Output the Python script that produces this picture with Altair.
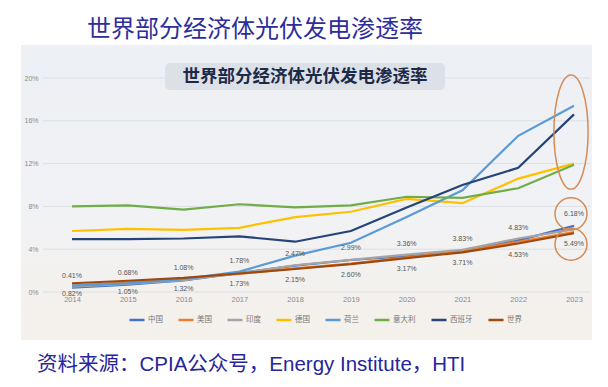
import altair as alt
import pandas as pd

# ---------------- data ----------------
years = list(range(2014, 2024))
series_names = ["中国", "美国", "印度", "德国", "荷兰", "意大利", "西班牙", "世界"]
china = [0.41, 0.68, 1.08, 1.78, 2.47, 2.99, 3.36, 3.83, 4.83, 6.18]
usa = [0.60, 0.90, 1.25, 1.70, 2.20, 2.65, 3.25, 3.80, 4.70, 5.60]
india = [0.50, 0.75, 1.10, 1.75, 2.50, 3.00, 3.50, 3.95, 5.00, 5.85]
germany = [5.7, 5.9, 5.8, 6.0, 7.0, 7.5, 8.7, 8.3, 10.6, 12.0]
netherlands = [0.6, 0.8, 1.2, 1.9, 3.4, 4.6, 7.0, 9.5, 14.6, 17.4]
italy = [8.0, 8.1, 7.7, 8.2, 7.9, 8.1, 8.9, 8.8, 9.7, 11.9]
spain = [4.95, 4.95, 5.0, 5.2, 4.7, 5.7, 7.9, 10.0, 11.6, 16.6]
world = [0.82, 1.05, 1.32, 1.73, 2.15, 2.60, 3.17, 3.71, 4.53, 5.49]
y_ticks = [0, 4, 8, 12, 16, 20]
colors = ["#4472C4", "#ED7D31", "#A5A5A5", "#FFC000", "#5B9BD5", "#70AD47", "#264478", "#9E480E"]

outer_title = "世界部分经济体光伏发电渗透率"
inner_title = "世界部分经济体光伏发电渗透率"
footer = "资料来源：CPIA公众号，Energy Institute，HTI"

all_values = [china, usa, india, germany, netherlands, italy, spain, world]
rows = []
for name, vals in zip(series_names, all_values):
    for yr, v in zip(years, vals):
        rows.append({"year": yr, "series": name, "value": v})
df = pd.DataFrame(rows)

df_china = df[df.series == "中国"].copy()
df_world = df[df.series == "世界"].copy()
df_china["label"] = df_china["value"].map(lambda v: f"{v:.2f}%")
df_world["label"] = df_world["value"].map(lambda v: f"{v:.2f}%")

last = years[-1]
top4 = df[(df.year == last) & df.series.isin(["德国", "荷兰", "意大利", "西班牙"])]
df_ellipse = pd.DataFrame({"year": [last], "value": [top4["value"].mean()]})
df_c1 = df_china[df_china.year == last]
df_c2 = df_world[df_world.year == last]
df_grid = pd.DataFrame({"value": y_ticks})
one = pd.DataFrame({"a": [0]})

W, H = 547, 214
CJK = "Noto Sans CJK SC"

x_enc = alt.X("year:Q",
              scale=alt.Scale(domain=[2013.48, 2023.287], nice=False, zero=False),
              axis=alt.Axis(values=years, format="d", title=None, grid=False, ticks=False,
                            domain=False, labelFontSize=7.5, labelColor="#8a8a8a",
                            labelPadding=3, labelFont="Liberation Sans", zindex=1))
y_axis = alt.Axis(values=y_ticks, labelExpr="datum.value + '%'", title=None, grid=False,
                  ticks=False, domain=False, labelFontSize=7, labelColor="#8a8a8a",
                  labelPadding=5, labelFont="Liberation Sans", zindex=1)
y_scale = alt.Scale(domain=[0, 20], nice=False, zero=True)
y_enc = alt.Y("value:Q", scale=y_scale, axis=y_axis)

grad = alt.Gradient(gradient="linear", x1=0, x2=0, y1=0, y2=1,
                    stops=[alt.GradientStop(color="#EDF0F4", offset=0),
                           alt.GradientStop(color="#F1F2F4", offset=0.6),
                           alt.GradientStop(color="#F5F0EA", offset=1)])

bg = alt.Chart(one).mark_rect(fill=grad).encode(
    x=alt.value(-22), x2=alt.value(549), y=alt.value(-33), y2=alt.value(262))

grid = alt.Chart(df_grid).mark_rule(color="#DCDFE4", strokeWidth=1).encode(
    y=y_enc, x=alt.value(0), x2=alt.value(W))

band = alt.Chart(one).mark_rect(fill="#DCE0E7", cornerRadius=5).encode(
    x=alt.value(122), x2=alt.value(402), y=alt.value(-15), y2=alt.value(12))

band_text = alt.Chart(one).mark_text(
    text=inner_title, fontSize=17.5, fontWeight="bold", color="#1C2A48", font=CJK,
    align="center", baseline="middle").encode(x=alt.value(262), y=alt.value(-1))

lines = alt.Chart(df).mark_line(strokeWidth=2.2).encode(
    x=x_enc, y=y_enc,
    color=alt.Color("series:N", scale=alt.Scale(domain=series_names, range=colors),
                    legend=alt.Legend(orient="none", legendX=85, legendY=233,
                                      direction="horizontal", columns=8, title=None,
                                      symbolType="stroke", symbolSize=225,
                                      symbolStrokeWidth=2.5, labelFontSize=7.5,
                                      labelColor="#777777", labelFont=CJK,
                                      columnPadding=10, labelOffset=2, zindex=1)))

lab_up = alt.Chart(df_china).mark_text(dy=-12, fontSize=7, color="#555555",
                                       font="Liberation Sans").encode(
    x=x_enc, y=y_enc, text="label:N")
lab_down = alt.Chart(df_world).mark_text(dy=11, fontSize=7, color="#555555",
                                         font="Liberation Sans").encode(
    x=x_enc, y=y_enc, text="label:N")

a, k = 0.3, 0.5523
ellipse_path = (f"M0,-1C{k*a:.4f},-1 {a},{-k:.4f} {a},0"
                f"C{a},{k:.4f} {k*a:.4f},1 0,1"
                f"C{-k*a:.4f},1 {-a},{k:.4f} {-a},0"
                f"C{-a},{-k:.4f} {-k*a:.4f},-1 0,-1Z")
ring = "#D58B55"
ellipse = alt.Chart(df_ellipse).mark_point(
    shape=ellipse_path, filled=False, stroke=ring, strokeWidth=1.5, size=12996,
    xOffset=-3, yOffset=-5, opacity=1).encode(x=x_enc, y=y_enc)
circ1 = alt.Chart(df_c1).mark_point(
    shape="circle", filled=False, stroke=ring, strokeWidth=1.5, size=1024,
    xOffset=-3, yOffset=-12, opacity=1).encode(x=x_enc, y=y_enc)
circ2 = alt.Chart(df_c2).mark_point(
    shape="circle", filled=False, stroke=ring, strokeWidth=1.5, size=1024,
    xOffset=-3, yOffset=11, opacity=1).encode(x=x_enc, y=y_enc)

title_txt = alt.Chart(one).mark_text(
    text=outer_title, fontSize=24, color="#2D2D9C", font=CJK,
    align="center", baseline="middle").encode(x=alt.value(212), y=alt.value(-48))

footer_txt = alt.Chart(one).mark_text(
    text=footer, fontSize=20.5, color="#26269A", font=f"Liberation Sans, {CJK}",
    align="left", baseline="middle").encode(x=alt.value(-6), y=alt.value(287))

chart = alt.layer(
    bg, grid, band, band_text, lines, lab_up, lab_down, ellipse, circ1, circ2,
    title_txt, footer_txt
).properties(
    width=W, height=H,
    autosize=alt.AutoSizeParams(type="none"),
    padding={"left": 35, "top": 70, "right": 10, "bottom": 87},
    background="white",
).configure_view(stroke=None)

chart.save("out.html", embed_options={"renderer": "svg", "actions": False})
